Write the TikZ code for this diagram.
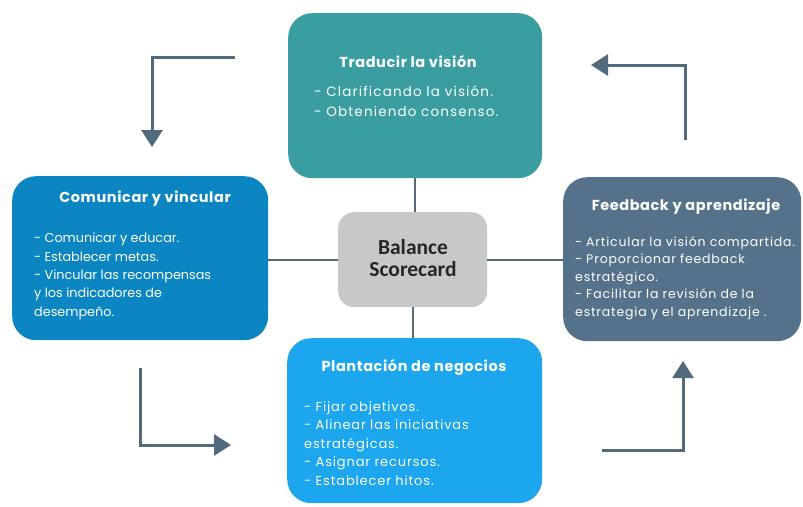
\documentclass[tikz,border=0pt]{standalone}
\usepackage{fontspec}
\setmainfont{Poppins}
\newfontfamily\centerfont{Carlito}
\newfontfamily\titlefont[LetterSpace=4]{Poppins}
\newfontfamily\widefont[LetterSpace=8.5]{Poppins}
\newfontfamily\midfont[LetterSpace=6.5]{Poppins}
\usetikzlibrary{arrows.meta}

\definecolor{tealbox}{HTML}{3A9EA0}
\definecolor{bluebox}{HTML}{0C86C2}
\definecolor{skybox}{HTML}{1CA6EE}
\definecolor{slatebox}{HTML}{56728A}
\definecolor{greybox}{HTML}{C8C8C8}
\definecolor{linkcol}{HTML}{55697B}
\definecolor{arrowcol}{HTML}{526A7E}

\tikzset{
  panel/.style={draw=none, rounded corners=24pt, inner sep=0pt, anchor=north west},
  hub/.style={draw=none, fill=greybox, rounded corners=16pt, inner sep=0pt, anchor=north west},
  paneltitle/.style={inner sep=0pt, text=white, font=\titlefont\fontsize{14.5}{17}\selectfont\bfseries},
  panelbody/.style={inner sep=0pt, anchor=north west, align=left, text=white,
    font=\fontsize{12.8}{18.3}\selectfont},
  link/.style={draw=linkcol, line width=2.4pt},
  flow/.style={draw=arrowcol, line width=3pt, -{Triangle[length=17pt,width=21pt]}}
}

\begin{document}
\begin{tikzpicture}[x=1pt,y=-1pt]
  \useasboundingbox (0,0) rectangle (803,506);

  % four panels around the hub
  \node[panel, fill=tealbox, minimum width=254pt, minimum height=165pt] (vision) at (288,13) {};
  \node[panel, fill=bluebox, minimum width=256pt, minimum height=164pt] (comm) at (12,176) {};
  \node[panel, fill=slatebox, minimum width=238pt, minimum height=164pt] (feed) at (563,177) {};
  \node[panel, fill=skybox, minimum width=255pt, minimum height=165pt] (plan) at (287,338) {};

  % hub
  \node[hub, minimum width=149pt, minimum height=95pt] (hub) at (338,212) {};
  \node[inner sep=0pt, font=\centerfont\bfseries\fontsize{21.5}{21.5}\selectfont, text=black!85, align=center]
    (hubtext) at (413,258) {Balance\\Scorecard};

  % connectors from hub to panels
  \draw[link] (vision.south) -- (vision.south |- hub.north);
  \draw[link] (hub.south) -- (hub.south |- plan.north);
  \draw[link] (comm.east |- hub.west) -- (hub.west);
  \draw[link] (hub.east) -- (feed.west |- hub.east);

  % panel titles
  \node[paneltitle] (visiont) at (408,62) {Traducir la visión};
  \node[paneltitle] (commt) at (145,199) {Comunicar y vincular};
  \node[paneltitle] (feedt) at (686,207) {Feedback y aprendizaje};
  \node[paneltitle] (plant) at (414,367) {Plantación de negocios};

  % panel bodies
  \node[panelbody, font=\widefont\fontsize{13.5}{19.5}\selectfont] (visionb) at (314,86)
    {- Clarificando la visión.\\- Obteniendo consenso.};
  \node[panelbody] (commb) at (34,233)
    {- Comunicar y educar.\\- Establecer metas.\\- Vincular las recompensas\\y los indicadores de\\desempeño.};
  \node[panelbody, font=\midfont\fontsize{12.5}{17.5}\selectfont] (feedb) at (575,236)
    {- Articular la visión compartida.\\- Proporcionar feedback\\estratégico.\\- Facilitar la revisión de la\\estrategia y el aprendizaje .};
  \node[panelbody, font=\midfont\fontsize{13}{18.5}\selectfont] (planb) at (304,401)
    {- Fijar objetivos.\\- Alinear las iniciativas\\estratégicas.\\- Asignar recursos.\\- Establecer hitos.};

  % cycle arrows
  \coordinate (a1s) at (235,57);
  \coordinate (a1k) at (152,57);
  \coordinate (a1e) at (152,147);
  \draw[flow] (a1s) -- (a1k) -- (a1e);

  \coordinate (a2s) at (140,368);
  \coordinate (a2k) at (140,445);
  \coordinate (a2e) at (231,445);
  \draw[flow] (a2s) -- (a2k) -- (a2e);

  \coordinate (a3s) at (602,450);
  \coordinate (a3k) at (683,450);
  \coordinate (a3e) at (683,361);
  \draw[flow] (a3s) -- (a3k) -- (a3e);

  \coordinate (a4s) at (685,140);
  \coordinate (a4k) at (685,65);
  \coordinate (a4e) at (591,65);
  \draw[flow] (a4s) -- (a4k) -- (a4e);
\end{tikzpicture}
\end{document}
